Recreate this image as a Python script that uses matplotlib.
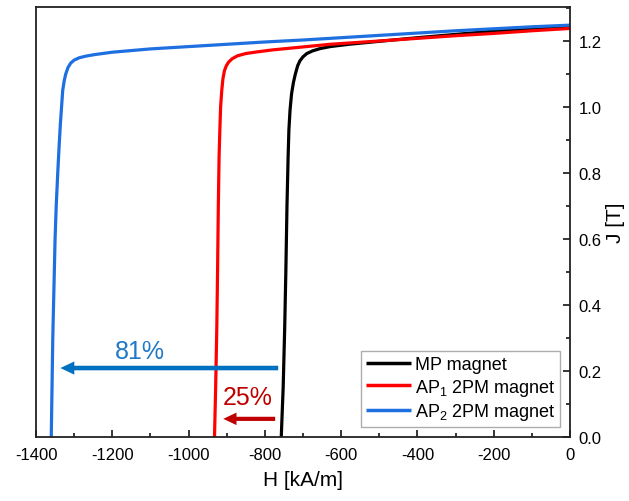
import matplotlib
matplotlib.use("Agg")
import matplotlib.pyplot as plt
from matplotlib.ticker import MultipleLocator

plt.rcParams['font.family'] = ['Liberation Sans', 'DejaVu Sans']
plt.rcParams['mathtext.fontset'] = 'custom'
plt.rcParams['mathtext.rm'] = 'Liberation Sans'
plt.rcParams['mathtext.it'] = 'Liberation Sans:italic'
plt.rcParams['mathtext.bf'] = 'Liberation Sans:bold'

# ---- data (H in kA/m, J in T) ----
mp_H = [-757, -752, -748, -745, -742, -739, -737, -734, -730, -725, -720, -714, -708, -700,
        -690, -675, -655, -629, -580, -500, -400, -300, -200, -100, 0]
mp_J = [0.00, 0.15, 0.33, 0.50, 0.70, 0.85, 0.93, 0.99, 1.04, 1.075, 1.10, 1.125, 1.14, 1.152,
        1.162, 1.170, 1.177, 1.183, 1.190, 1.199, 1.210, 1.220, 1.230, 1.237, 1.243]

ap1_H = [-932, -929, -926, -924, -922, -920, -918, -916, -913, -910, -906, -901, -895, -886,
         -872, -850, -820, -780, -700, -629, -500, -400, -300, -200, -100, 0]
ap1_J = [0.00, 0.15, 0.33, 0.50, 0.70, 0.85, 0.93, 1.00, 1.05, 1.085, 1.11, 1.125, 1.136, 1.146,
         1.155, 1.162, 1.167, 1.173, 1.182, 1.190, 1.200, 1.208, 1.216, 1.223, 1.231, 1.238]

ap2_H = [-1360, -1358, -1356, -1353, -1350, -1347, -1343, -1339, -1336, -1333, -1330, -1326,
         -1322, -1316, -1309, -1300, -1287, -1270, -1245, -1200, -1150, -1100, -1000, -900, -800,
         -700, -600, -500, -400, -300, -200, -100, 0]
ap2_J = [0.00, 0.15, 0.30, 0.45, 0.60, 0.70, 0.80, 0.89, 0.95, 1.00, 1.05, 1.08,
         1.10, 1.12, 1.133, 1.142, 1.149, 1.154, 1.159, 1.166, 1.171, 1.176, 1.183, 1.190, 1.197,
         1.203, 1.210, 1.217, 1.224, 1.231, 1.237, 1.243, 1.248]

labels = ['MP magnet', 'AP$_1$ 2PM magnet', 'AP$_2$ 2PM magnet']
colors = ['#000000', '#FF0000', '#1E6FE0']

# annotation arrows: (start H, end H, J)
arrow_81 = (-765, -1336, 0.209)
arrow_25 = (-773, -909, 0.055)
text_81 = ('81%', -1127, 0.26)
text_25 = ('25%', -844, 0.12)

fig = plt.figure(figsize=(6.29, 5.02), dpi=100)
ax = fig.add_axes([36/629, 1-438/502, (570-36)/629, (438-8)/502])

for H, J, lab, c in zip([mp_H, ap1_H, ap2_H], [mp_J, ap1_J, ap2_J], labels, colors):
    ax.plot(H, J, color=c, lw=2.3, label=lab, solid_capstyle='butt')

ax.set_xlim(-1400, 0)
ax.set_ylim(0, 1.303)

ax.yaxis.tick_right()
ax.yaxis.set_label_position('right')
ax.xaxis.set_major_locator(MultipleLocator(200))
ax.xaxis.set_minor_locator(MultipleLocator(100))
ax.yaxis.set_major_locator(MultipleLocator(0.2))
ax.yaxis.set_minor_locator(MultipleLocator(0.1))
ax.yaxis.set_major_formatter(plt.FuncFormatter(lambda v, p: f"{v:.1f}"))
ax.xaxis.set_major_formatter(plt.FuncFormatter(lambda v, p: f"{int(round(v))}"))
ax.tick_params(axis='both', which='major', direction='in', length=5, width=1.1,
               labelsize=12, color='black')
ax.tick_params(axis='both', which='minor', direction='in', length=3, width=1.1)
ax.tick_params(axis='x', which='both', top=False, pad=7)
ax.tick_params(axis='y', which='both', left=False, right=True, pad=6)
for s in ax.spines.values():
    s.set_linewidth(1.3)
    s.set_color('#222222')

ax.set_xlabel('H [kA/m]', fontsize=15, labelpad=6)
ax.set_ylabel('J [T]', fontsize=15, labelpad=3)

leg = ax.legend(loc='lower right', bbox_to_anchor=(0.981, 0.024), borderaxespad=0,
                fontsize=13, frameon=True, fancybox=False, edgecolor='#999999',
                handlelength=2.5, handletextpad=0.2, labelspacing=0.2,
                borderpad=0.25)
leg.get_frame().set_linewidth(1.0)
for l in leg.get_lines():
    l.set_linewidth(2.5)

ax.annotate('', xy=(arrow_81[1], arrow_81[2]), xytext=(arrow_81[0], arrow_81[2]),
            arrowprops=dict(arrowstyle='simple,head_length=1.0,head_width=0.95,tail_width=0.33',
                            color='#0070C0', lw=0, shrinkA=0, shrinkB=0, mutation_scale=10))
ax.annotate('', xy=(arrow_25[1], arrow_25[2]), xytext=(arrow_25[0], arrow_25[2]),
            arrowprops=dict(arrowstyle='simple,head_length=0.95,head_width=0.9,tail_width=0.3',
                            color='#C00000', lw=0, shrinkA=0, shrinkB=0, mutation_scale=10))
ax.text(text_81[1], text_81[2], text_81[0], color='#1F78C8', fontsize=18,
        ha='center', va='center')
ax.text(text_25[1], text_25[2], text_25[0], color='#C00000', fontsize=18,
        ha='center', va='center')

fig.savefig('out.png', dpi=100)
